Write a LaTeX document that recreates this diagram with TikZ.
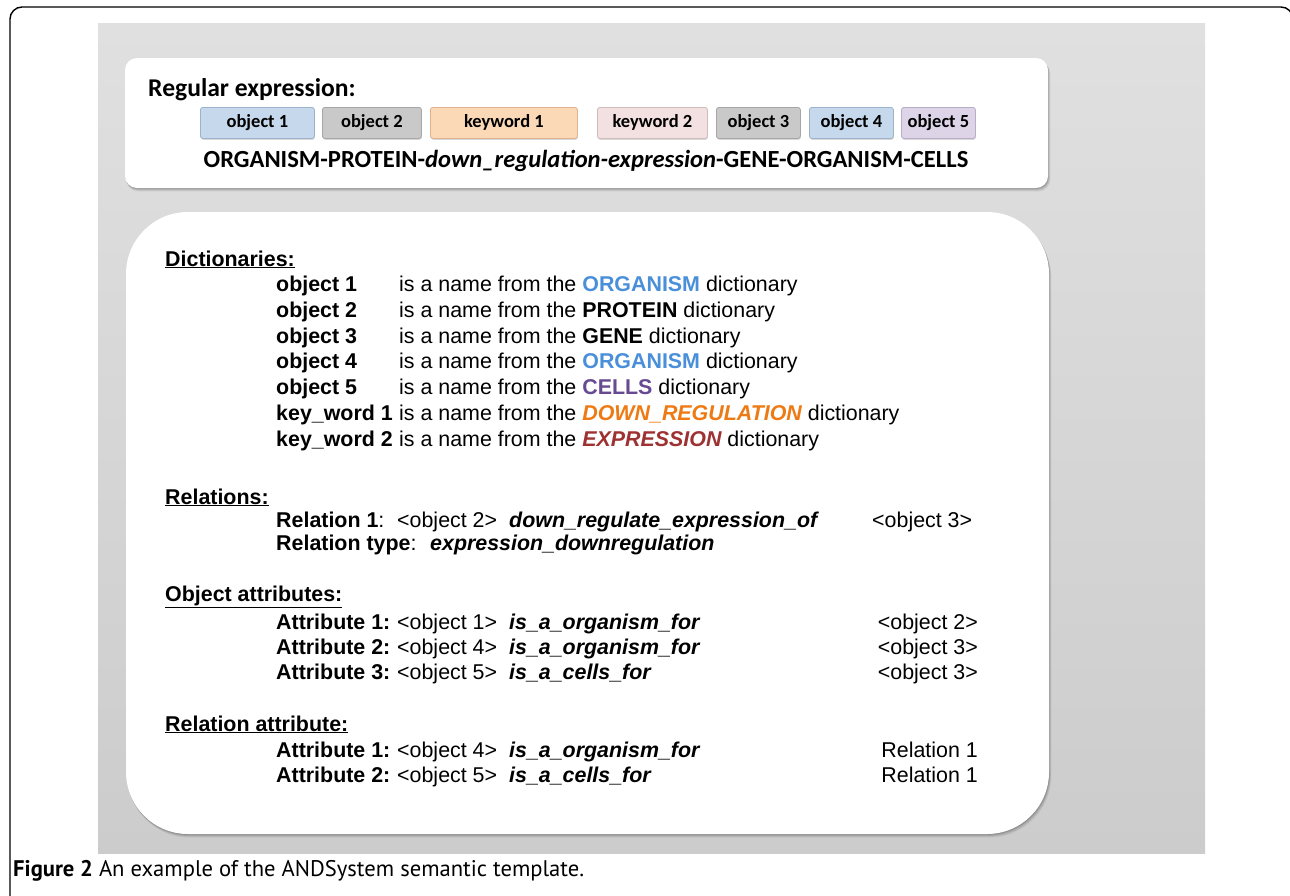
\documentclass[tikz,border=0pt]{standalone}
\usepackage{fontspec}
\setmainfont{Liberation Sans}
\newfontfamily\calib{Carlito}
\newfontfamily\capfont{PT Sans}
\usetikzlibrary{shadows}

% panel and box colours
\definecolor{panelTop}{HTML}{E0E0E0}
\definecolor{panelBot}{HTML}{CCCCCC}
\definecolor{tagBlue}{HTML}{C6D8EC}
\definecolor{tagBlueB}{HTML}{9DB3CB}
\definecolor{tagGray}{HTML}{C9C9C9}
\definecolor{tagGrayB}{HTML}{A6A6A6}
\definecolor{tagPeach}{HTML}{FBD9B7}
\definecolor{tagPeachB}{HTML}{DDB38F}
\definecolor{tagPink}{HTML}{F3E0E0}
\definecolor{tagPinkB}{HTML}{D2BBBB}
\definecolor{tagLav}{HTML}{DDD4E8}
\definecolor{tagLavB}{HTML}{B9AEC8}
% dictionary name colours
\definecolor{dOrg}{HTML}{4A8FDA}
\definecolor{dCell}{HTML}{674A91}
\definecolor{dDown}{HTML}{EE7A14}
\definecolor{dExpr}{HTML}{9E3232}

\newcommand{\bodysize}{\fontsize{21.4}{24}\selectfont}

\tikzset{
  lbl/.style={anchor=base west, inner sep=0pt, font=\bodysize\bfseries},
  txt/.style={anchor=base west, inner sep=0pt, font=\bodysize},
  rtxt/.style={anchor=base east, inner sep=0pt, font=\bodysize},
  itx/.style={anchor=base west, inner sep=0pt, font=\bodysize\bfseries\itshape},
  hdr/.style={anchor=base west, inner sep=0pt, font=\bodysize\bfseries},
  tag/.style={draw, line width=0.8pt, rounded corners=2.5pt, minimum height=31pt,
    inner sep=0pt, anchor=north west, font=\calib\fontsize{18.5}{20}\selectfont\bfseries,
    drop shadow={shadow xshift=0.5pt, shadow yshift=-1.5pt, opacity=0.3}},
  panelbox/.style={fill=white},
}

\begin{document}
\begin{tikzpicture}[x=1pt,y=-1pt]
\useasboundingbox (0,0) rectangle (1290,895);

% outer frame of the figure
\begin{scope}
\clip (0,0) rectangle (1290,895);
\draw[line width=1.4pt, rounded corners=12pt] (10,7) rectangle (1293,910);
\end{scope}

% grey background panel
\shade[top color=panelTop, bottom color=panelBot] (98,23) rectangle (1205,853);

% soft shadows under the two white boxes
\foreach \s/\o in {4/0.05,3/0.07,2/0.09,1/0.12}{
  \fill[black, opacity=\o, rounded corners=12pt] (125+\s*0.4,58+\s) rectangle (1048+\s*0.6,188+\s*0.9);
  \fill[black, opacity=\o, rounded corners=62pt] (126+\s*0.4,212+\s) rectangle (1049+\s*0.6,834+\s*0.9);
}

% top box: regular expression
\fill[panelbox, rounded corners=12pt] (125,58) rectangle (1048,188);
% lower box: template description
\fill[panelbox, rounded corners=62pt] (126,212) rectangle (1049,834);

\node[anchor=base west, inner sep=0pt, font=\calib\fontsize{25.6}{28}\selectfont\bfseries]
  (regex) at (148,96) {Regular expression:};

\node[tag, fill=tagBlue,  draw=tagBlueB,  minimum width=114pt] (o1) at (200,107) {object 1};
\node[tag, fill=tagGray,  draw=tagGrayB,  minimum width=99pt]  (o2) at (322,107) {object 2};
\node[tag, fill=tagPeach, draw=tagPeachB, minimum width=147pt] (k1) at (430,107) {keyword 1};
\node[tag, fill=tagPink,  draw=tagPinkB,  minimum width=110pt] (k2) at (597,107) {keyword 2};
\node[tag, fill=tagGray,  draw=tagGrayB,  minimum width=84pt]  (o3) at (716,107) {object 3};
\node[tag, fill=tagBlue,  draw=tagBlueB,  minimum width=84pt]  (o4) at (809,107) {object 4};
\node[tag, fill=tagLav,   draw=tagLavB,   minimum width=74pt]  (o5) at (901,107) {object 5};

\node[anchor=base, inner sep=0pt, font=\calib\fontsize{24.6}{26}\selectfont\bfseries]
  (pattern) at (586,167) {ORGANISM-PROTEIN-\textit{down\_regulation-expression}-GENE-ORGANISM-CELLS};

% dictionaries
\node[hdr] (hdict) at (165,266) {\underline{Dictionaries:}};
\node[lbl] (d1l) at (276,291.5) {object 1};
\node[txt] (d1r) at (399,291.5) {is a name from the \textbf{\color{dOrg}ORGANISM} dictionary};
\node[lbl] (d2l) at (276,317.3) {object 2};
\node[txt] (d2r) at (399,317.3) {is a name from the \textbf{PROTEIN} dictionary};
\node[lbl] (d3l) at (276,343.1) {object 3};
\node[txt] (d3r) at (399,343.1) {is a name from the \textbf{GENE} dictionary};
\node[lbl] (d4l) at (276,368.9) {object 4};
\node[txt] (d4r) at (399,368.9) {is a name from the \textbf{\color{dOrg}ORGANISM} dictionary};
\node[lbl] (d5l) at (276,394.7) {object 5};
\node[txt] (d5r) at (399,394.7) {is a name from the \textbf{\color{dCell}CELLS} dictionary};
\node[lbl] (d6l) at (276,420.5) {key\_word 1};
\node[txt] (d6r) at (399,420.5) {is a name from the \textbf{\itshape\color{dDown}DOWN\_REGULATION} dictionary};
\node[lbl] (d7l) at (276,446.3) {key\_word 2};
\node[txt] (d7r) at (399,446.3) {is a name from the \textbf{\itshape\color{dExpr}EXPRESSION} dictionary};

% relations
\node[hdr] (hrel) at (165,504) {\underline{Relations:}};
\node[txt] (r1l) at (276,527) {\textbf{Relation 1}:};
\node[txt] (r1a) at (397,527) {<object 2>};
\node[itx] (r1b) at (509,527) {down\_regulate\_expression\_of};
\node[txt] (r1c) at (872,527) {<object 3>};
\node[txt] (r2l) at (276,550) {\textbf{Relation type}:};
\node[itx] (r2b) at (430,550) {expression\_downregulation};

% object attributes
\node[hdr] (hobj) at (165,601) {\underline{Object attributes:}};
\node[lbl] (a1l) at (276,629.5) {Attribute 1:};
\node[txt] (a1a) at (397,629.5) {<object 1>};
\node[itx] (a1b) at (509,629.5) {is\_a\_organism\_for};
\node[rtxt] (a1c) at (978,629.5) {<object 2>};
\node[lbl] (a2l) at (276,654.5) {Attribute 2:};
\node[txt] (a2a) at (397,654.5) {<object 4>};
\node[itx] (a2b) at (509,654.5) {is\_a\_organism\_for};
\node[rtxt] (a2c) at (978,654.5) {<object 3>};
\node[lbl] (a3l) at (276,679.5) {Attribute 3:};
\node[txt] (a3a) at (397,679.5) {<object 5>};
\node[itx] (a3b) at (509,679.5) {is\_a\_cells\_for};
\node[rtxt] (a3c) at (978,679.5) {<object 3>};

% relation attributes
\node[hdr] (hra) at (165,731) {\underline{Relation attribute:}};
\node[lbl] (b1l) at (276,757.5) {Attribute 1:};
\node[txt] (b1a) at (397,757.5) {<object 4>};
\node[itx] (b1b) at (509,757.5) {is\_a\_organism\_for};
\node[rtxt] (b1c) at (978,757.5) {Relation 1};
\node[lbl] (b2l) at (276,782.5) {Attribute 2:};
\node[txt] (b2a) at (397,782.5) {<object 5>};
\node[itx] (b2b) at (509,782.5) {is\_a\_cells\_for};
\node[rtxt] (b2c) at (978,782.5) {Relation 1};

% caption
\node[anchor=base west, inner sep=0pt, font=\capfont\fontsize{22.6}{24}\selectfont]
  (caption) at (13,876) {\textbf{Figure 2} An example of the ANDSystem semantic template.};
\end{tikzpicture}
\end{document}
